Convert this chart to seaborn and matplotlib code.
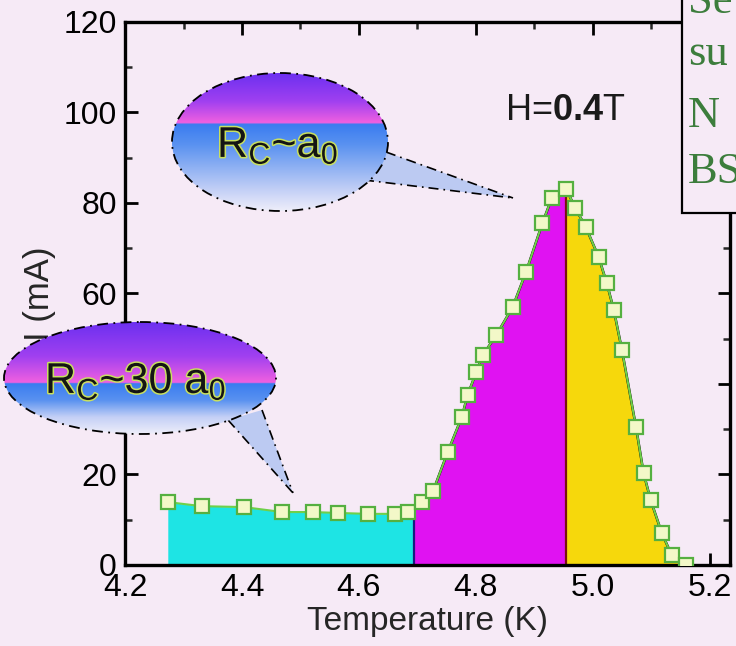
import numpy as np
import matplotlib
matplotlib.use("Agg")
import matplotlib.pyplot as plt
import matplotlib.patheffects as pe
import seaborn as sns
from matplotlib.patches import Ellipse, Polygon, Rectangle
from matplotlib.colors import LinearSegmentedColormap
from matplotlib.ticker import MultipleLocator

# data
temperature = [4.273, 4.331, 4.403, 4.469, 4.521, 4.564, 4.615, 4.662, 4.684,
               4.708, 4.727, 4.752, 4.776, 4.786, 4.801, 4.812, 4.835, 4.863,
               4.886, 4.914, 4.930, 4.955, 4.970, 4.988, 5.010, 5.024, 5.036,
               5.050, 5.074, 5.087, 5.099, 5.118, 5.135, 5.160]
current = [13.9, 13.0, 12.8, 11.7, 11.7, 11.5, 11.3, 11.3, 11.7,
           13.9, 16.4, 25.0, 32.7, 37.6, 42.7, 46.4, 50.8, 57.0,
           64.8, 75.6, 81.1, 83.0, 78.9, 74.7, 68.1, 62.3, 56.4,
           47.5, 30.5, 20.3, 14.4, 7.1, 2.2, 0.0]

region_edges = [4.2, 4.694, 4.955, 5.3]
region_colors = ["#1ee4e4", "#e012f2", "#f6d80c"]
boundary_colors = ["#1a1a80", "#7a1010"]

xticks = [4.2, 4.4, 4.6, 4.8, 5.0, 5.2]
yticks = [0, 20, 40, 60, 80, 100, 120]

bubble_texts = ["R$_\\mathrm{C}$~a$_\\mathrm{0}$", "R$_\\mathrm{C}$~30 a$_\\mathrm{0}$"]
field_label = "H=$\\mathbf{0.4}$T"
box_lines = ["Se", "su", "N", "BS"]

BG = "#f6eaf6"

sns.set_theme(style="ticks")
plt.rcParams["font.family"] = ["Liberation Sans", "DejaVu Sans"]
plt.rcParams["mathtext.fontset"] = "custom"
plt.rcParams["mathtext.rm"] = "Liberation Sans"
plt.rcParams["mathtext.it"] = "Liberation Sans:italic"
plt.rcParams["mathtext.bf"] = "Liberation Sans:bold"

fig = plt.figure(figsize=(7.36, 6.46), dpi=100, facecolor=BG)
ax = fig.add_axes([0.170, 0.1254, 0.822, 0.8406])
ax.set_facecolor(BG)

# coloured areas under the curve, one per temperature window
for i, col in enumerate(region_colors):
    poly = ax.fill_between(temperature, current, 0, color=col, lw=0, zorder=1)
    clip = Rectangle((region_edges[i], 0), region_edges[i + 1] - region_edges[i], 130,
                     transform=ax.transData)
    poly.set_clip_path(clip)

# boundary lines between the windows, only inside the area
area = ax.fill_between(temperature, current, 0, color="none", lw=0)
for xb, col in zip(region_edges[1:3], boundary_colors):
    vl = ax.vlines(xb, 0, 120, color=col, lw=1.6, zorder=2)
    vl.set_clip_path(area.get_paths()[0], ax.transData)

# black outline on the rising/falling part
blk, = ax.plot(temperature, current, color="black", lw=1.8, zorder=3)
blk.set_clip_path(Rectangle((region_edges[1], -5), 1, 140, transform=ax.transData))

sns.lineplot(x=temperature, y=current, ax=ax, color="#6fd04a", lw=1.5,
             marker="s", markersize=10, markerfacecolor="#f3f8c8",
             markeredgecolor="#55b040", markeredgewidth=1.6, zorder=4)

ax.set_xlim(4.2, 5.235)
ax.set_ylim(0, 120)
ax.set_xticks(xticks)
ax.set_xticklabels([f"{t:.1f}" for t in xticks])
ax.set_yticks(yticks)
ax.xaxis.set_minor_locator(MultipleLocator(0.1))
ax.yaxis.set_minor_locator(MultipleLocator(10))
ax.tick_params(which="major", direction="in", length=9, width=2, top=True,
               right=True, labelsize=23, pad=6, colors="black")
ax.tick_params(which="minor", direction="in", length=5, width=1.8, top=True,
               right=True)
for s in ax.spines.values():
    s.set_linewidth(2.4)
    s.set_color("black")

ax.set_xlabel("Temperature (K)", fontsize=24, labelpad=2)
ax.set_ylabel("I (mA)", fontsize=25)
ax.yaxis.set_label_coords(-0.115, 0.50)

# overlay in pixel coordinates for the speech bubbles and the clipped box
ov = fig.add_axes([0, 0, 1, 1], zorder=5)
ov.set_xlim(0, 736)
ov.set_ylim(646, 0)
ov.axis("off")
ov.patch.set_alpha(0)


def bubble(cx, cy, w, h, split, tip, base1, base2):
    ov.add_patch(Polygon([base1, tip, base2], closed=True, facecolor="#bccaf2",
                         edgecolor="none", zorder=1))
    for b in (base1, base2):
        ov.plot([b[0], tip[0]], [b[1], tip[1]], color="black", lw=1.2,
                ls=(0, (6, 3, 1, 3)), zorder=2)
    cmap = LinearSegmentedColormap.from_list("bub", [
        (0.0, "#6c30f0"), (split * 0.55, "#a040f0"), (split - 0.01, "#f060e0"),
        (split, "#3a7cf0"), (split + 0.15, "#5a92f0"), (0.85, "#c4d0f6"),
        (1.0, "#eeeefa")])
    grad = np.linspace(0, 1, 256).reshape(-1, 1)
    im = ov.imshow(grad, cmap=cmap, aspect="auto", zorder=3,
                   extent=(cx - w / 2, cx + w / 2, cy + h / 2, cy - h / 2))
    ell = Ellipse((cx, cy), w, h, facecolor="none", edgecolor="black", lw=1.3,
                  ls=(0, (6, 3, 1, 3)), zorder=4)
    ov.add_patch(ell)
    im.set_clip_path(ell)


bubble(280, 142, 216, 138, 0.37, (513, 198), (386, 152), (364, 180))
bubble(140, 378, 272, 112, 0.55, (293, 493), (228, 420), (262, 410))

glow = [pe.withStroke(linewidth=2.2, foreground="#c8e060")]
ov.text(217, 157, bubble_texts[0], fontsize=31, color="#141414",
        va="baseline", ha="left", zorder=6, path_effects=glow)
ov.text(45, 393, bubble_texts[1], fontsize=31, color="#141414",
        va="baseline", ha="left", zorder=6, path_effects=glow)

ov.text(505, 120, field_label, fontsize=26, color="#1a1a1a",
        va="baseline", ha="left")

# cut-off legend box at the top right
ov.add_patch(Rectangle((682, -10), 80, 223, facecolor=BG, edgecolor="black",
                       lw=1.6, zorder=7))
for txt, yb in zip(box_lines, [13, 65, 127, 183]):
    ov.text(688, yb, txt, fontsize=32, family="Liberation Serif",
            color="#3c7d3c", va="baseline", ha="left", zorder=8)

fig.savefig("out.png", dpi=100, facecolor=BG)
